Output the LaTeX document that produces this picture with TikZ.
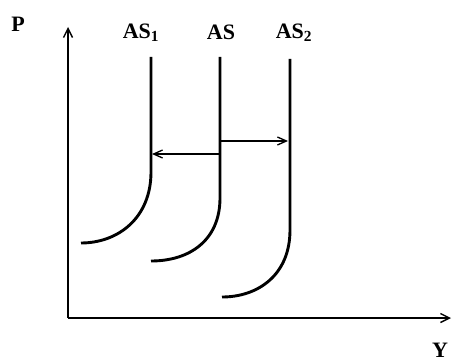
\documentclass[tikz,border=0pt]{standalone}
\usepackage{fontspec}
\setmainfont{Liberation Serif}
\usetikzlibrary{arrows.meta}

\tikzset{
	axis/.style={line width=1.8pt, -{Straight Barb[length=9pt,width=9pt,line width=1.4pt]}},
	curve/.style={line width=2.9pt},
	shiftarrow/.style={line width=1.4pt, -{Straight Barb[length=9pt,width=8pt,line width=1.3pt]}},
	lbl/.style={font=\fontsize{22}{24}\selectfont\bfseries, inner sep=0pt}
}

\begin{document}
\begin{tikzpicture}[x=1pt,y=-1pt]
	\useasboundingbox (0,0) rectangle (452,361);

	%Axes
	\coordinate (origin) at (68,318);
	\coordinate (ytip) at (68,27);
	\coordinate (xtip) at (451,318);
	\draw[axis] (origin) -- (ytip);
	\draw[axis] (origin) -- (xtip);
	\node[lbl] (lblP) at (18,24) {P};
	\node[lbl, anchor=base] (lblY) at (440,357) {Y};

	%Supply curves
	\draw[curve] (151,57) -- (151,172) .. controls (151,218) and (118,243) .. (81,243);
	\draw[curve] (220,57) -- (220,198) .. controls (220,240) and (190,261) .. (151,261);
	\draw[curve] (290,59) -- (290,230) .. controls (290,275) and (258,297) .. (222,297);
	\node[lbl] (lblAS1) at (141,33) {AS\textsubscript{1}};
	\node[lbl] (lblAS) at (221,32) {AS};
	\node[lbl] (lblAS2) at (294,33) {AS\textsubscript{2}};

	%Shifts
	\coordinate (asLow) at (219,154);
	\coordinate (as1Hit) at (152,154);
	\coordinate (asHigh) at (221,141);
	\coordinate (as2Hit) at (288,141);
	\draw[shiftarrow] (asLow) -- (as1Hit);
	\draw[shiftarrow] (asHigh) -- (as2Hit);

\end{tikzpicture}
\end{document}
